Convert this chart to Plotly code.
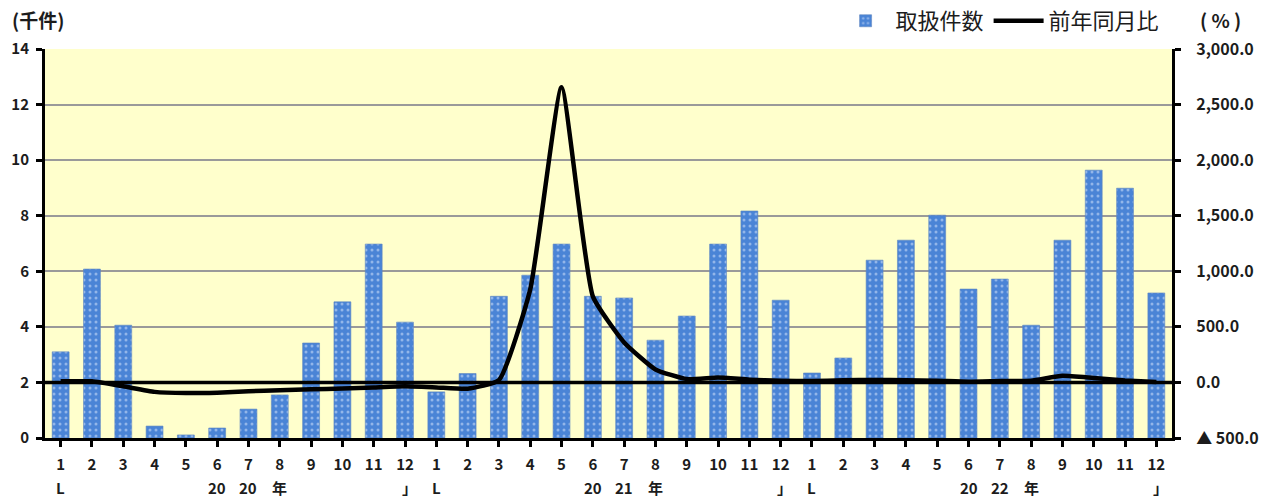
import plotly.graph_objects as go

# 取扱件数 (千件), 2020年1月〜2022年12月
months = [str(m) for m in range(1, 13)] * 3
counts_2020 = [3.1, 6.08, 4.06, 0.43, 0.11, 0.36, 1.04, 1.55, 3.42, 4.9, 6.98, 4.17]
counts_2021 = [1.66, 2.32, 5.1, 5.86, 6.98, 5.1, 5.04, 3.52, 4.39, 6.98, 8.17, 4.96]
counts_2022 = [2.34, 2.88, 6.4, 7.12, 8.02, 5.36, 5.72, 4.06, 7.12, 9.64, 8.99, 5.22]

# 前年同月比 (%)
yoy_2020 = [10, 10, -35, -85, -96, -92, -80, -70, -62, -55, -45, -35]
yoy_2021 = [-45, -57, 20, 837, 2655, 774, 360, 117, 30, 45, 25, 15]
yoy_2022 = [12, 20, 22, 20, 15, 6, 12, 15, 60, 40, 18, 3]

# 年の区切り表示 (2段目のラベル)
year_rows = {
    2020: ["L", "", "", "", "", "20", "20", "年", "", "", "", "」"],
    2021: ["L", "", "", "", "", "20", "21", "年", "", "", "", "」"],
    2022: ["L", "", "", "", "", "20", "22", "年", "", "", "", "」"],
}

left_ticks = [0, 2, 4, 6, 8, 10, 12, 14]
right_ticks = [-500, 0, 500, 1000, 1500, 2000, 2500, 3000]
right_ticktext = ["▲ 500.0", "0.0", "500.0", "1,000.0", "1,500.0",
                  "2,000.0", "2,500.0", "3,000.0"]

counts = counts_2020 + counts_2021 + counts_2022
yoy = yoy_2020 + yoy_2021 + yoy_2022
second_row = year_rows[2020] + year_rows[2021] + year_rows[2022]
xs = list(range(len(counts)))

FONT = "Noto Sans CJK JP"
INK = "#1c1c1c"

fig = go.Figure()

fig.add_trace(go.Bar(
    x=xs, y=counts, name="取扱件数", width=0.54,
    marker=dict(
        color="#4a84d6",
        line=dict(color="#5f86bf", width=0.6),
        pattern=dict(shape=".", fgcolor="#dbe8fb", bgcolor="#4a84d6",
                     size=6, solidity=0.2, fillmode="overlay"),
    ),
    yaxis="y",
))

fig.add_trace(go.Scatter(
    x=xs, y=yoy, name="前年同月比", mode="lines",
    line=dict(color="#000000", width=4.5, shape="spline", smoothing=0.45),
    yaxis="y2",
))

# 2段目 (年表示) のラベル
for x, t in zip(xs, second_row):
    if t:
        fig.add_annotation(
            x=x, y=-0.128, xref="x", yref="paper", text=t, showarrow=False,
            yanchor="middle", xanchor="center",
            xshift=4 if t == "」" else 0,
            font=dict(family=FONT, size=15, color=INK, weight="bold"),
        )

# 単位表示
fig.add_annotation(
    xref="paper", yref="paper", x=-0.031, y=1.075, text="(千件)",
    showarrow=False, xanchor="left", yanchor="middle",
    font=dict(family=FONT, size=19, color=INK, weight="bold"))
fig.add_annotation(
    xref="paper", yref="paper", x=1.043, y=1.075, text="( % )", showarrow=False,
    xanchor="center", yanchor="middle",
    font=dict(family=FONT, size=19, color=INK, weight="bold"))

# 比率 0% の基準線 (棒の上に描く)
fig.add_shape(type="line", xref="paper", yref="y2", x0=0, x1=1, y0=0, y1=0,
              line=dict(color="#000000", width=3.5), layer="above")

fig.update_layout(
    width=1270, height=499,
    margin=dict(l=45, r=98, t=49, b=61, autoexpand=False),
    paper_bgcolor="#ffffff",
    plot_bgcolor="#ffffcc",
    font=dict(family=FONT, color=INK),
    showlegend=True,
    legend=dict(
        orientation="h", xref="container", yref="container",
        x=0.917, xanchor="right", y=0.958, yanchor="middle",
        font=dict(family=FONT, size=22, color=INK),
        bgcolor="rgba(0,0,0,0)", itemwidth=50, traceorder="normal",
    ),
    xaxis=dict(
        range=[-0.5, len(xs) - 0.5],
        tickmode="array", tickvals=xs, ticktext=months,
        tickson="boundaries", ticks="outside", ticklen=6, tickwidth=3,
        tickcolor="#000000", showline=True, linecolor="#000000", linewidth=3,
        showgrid=False, zeroline=False, ticklabelstandoff=5,
        tickfont=dict(family=FONT, size=15, color=INK, weight="bold"),
    ),
    yaxis=dict(
        range=[0, 14], tickmode="array", tickvals=left_ticks,
        ticks="outside", ticklen=6, tickwidth=3, tickcolor="#000000",
        showline=True, linecolor="#000000", linewidth=3,
        showgrid=True, gridcolor="#9a9a9a", gridwidth=2, zeroline=False,
        tickfont=dict(family=FONT, size=15, color=INK, weight="bold"),
        ticklabelstandoff=4,
    ),
    yaxis2=dict(
        range=[-500, 3000], overlaying="y", side="right",
        tickmode="array", tickvals=right_ticks, ticktext=right_ticktext,
        ticks="outside", ticklen=6, tickwidth=3, tickcolor="#000000",
        showline=True, linecolor="#000000", linewidth=3,
        showgrid=False, zeroline=False,
        tickfont=dict(family=FONT, size=16, color=INK, weight="bold"),
        ticklabelstandoff=12,
    ),
)

fig.write_html("out.html")
